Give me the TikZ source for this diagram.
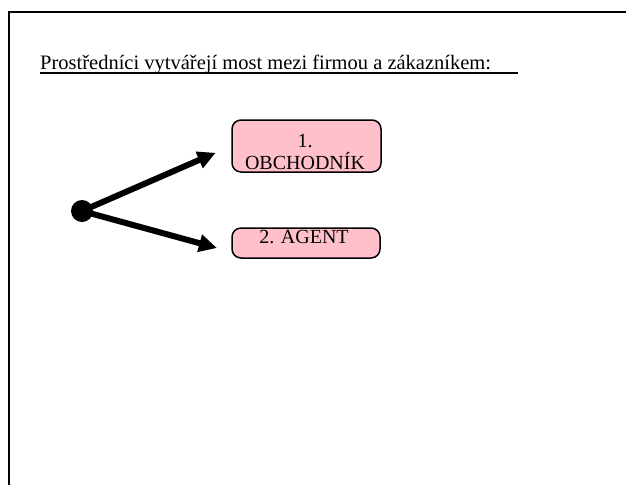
\documentclass[tikz,border=0pt]{standalone}
\usepackage{fontspec}
\setmainfont{Liberation Serif}
\usetikzlibrary{arrows.meta,positioning}
\definecolor{boxpink}{RGB}{255,192,203}

\tikzset{
  pinkbox/.style={draw,line width=1.5pt,fill=boxpink,rounded corners=9pt,inner sep=0pt},
  boxtext/.style={font=\fontsize{20}{22}\selectfont,align=center,inner sep=0pt},
  bigarrow/.style={line width=6pt,-{Triangle[length=18pt,width=17pt]}}
}

\begin{document}
\begin{tikzpicture}[x=1pt,y=-1pt]
\useasboundingbox (0,0) rectangle (626,485);
% frame of the slide
\draw[line width=2pt] (8.5,485) -- (8.5,11.5) -- (626,11.5);

% title with underline
\node[anchor=base west,inner sep=0pt,font=\fontsize{20.5}{22}\selectfont] (title) at (40,69)
  {Prostředníci vytvářejí most mezi firmou a zákazníkem:};
\draw[line width=1.2pt] ([yshift=-4pt]title.base west) -- ++(478,0);

% the two boxes
\node[pinkbox,minimum width=149pt,minimum height=52pt] (obch) at (306.5,146) {};
\node[boxtext] (obchtxt) at (305,152) {1.\\OBCHODNÍK};
\node[pinkbox,minimum width=148pt,minimum height=30pt] (agent) at (306,243) {};
\node[boxtext,anchor=base] (agenttxt) at (304,243) {2. AGENT};

% dot and arrows
\node[circle,fill=black,minimum size=22pt,inner sep=0pt] (dot) at (82,211) {};
\coordinate (agenttip) at (217,248);
\draw[bigarrow,shorten >=17pt] (dot.center) -- (obch.west);
\draw[bigarrow] (dot.center) -- (agenttip);
\end{tikzpicture}
\end{document}
